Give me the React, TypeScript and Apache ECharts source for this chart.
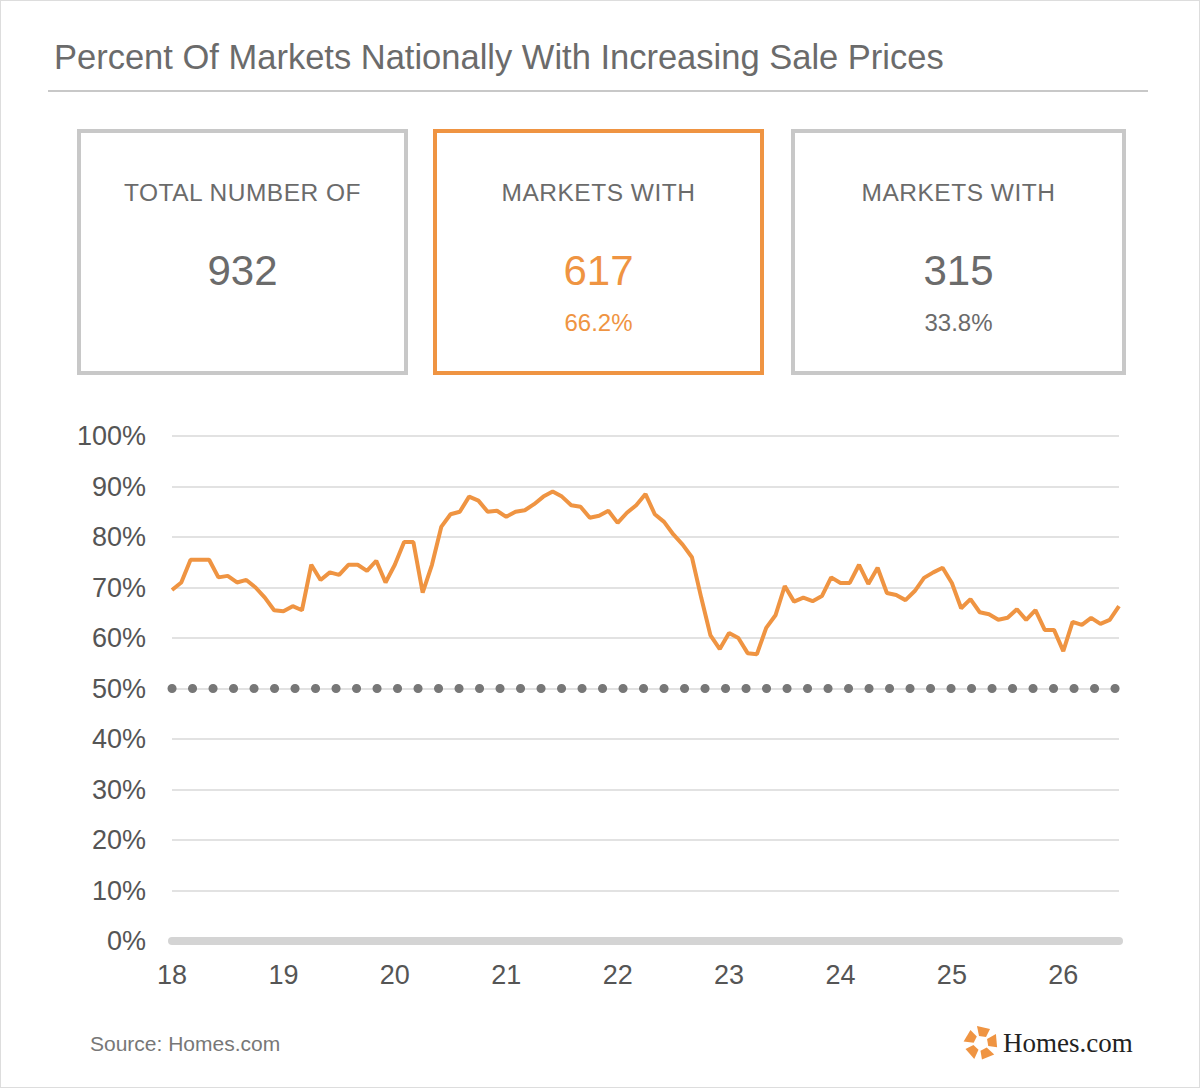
import React, { useEffect, useRef } from 'react';
import * as echarts from 'echarts';

// monthly share of markets with increasing sale prices, Jan 2018 onward
const shareValues = [
  69.5, 71, 75.5, 75.5, 75.5, 72, 72.3, 71, 71.5, 70,
  68, 65.5, 65.3, 66.3, 65.5, 74.5, 71.5, 73, 72.5, 74.5,
  74.5, 73.3, 75.3, 71, 74.5, 79, 79, 69, 74.5, 82,
  84.5, 85, 88, 87.2, 85, 85.2, 84, 85, 85.3, 86.5, 88,
  89, 88, 86.3, 86, 83.8, 84.2, 85.2, 82.8, 84.8, 86.3,
  88.5, 84.5, 83, 80.5, 78.5, 76, 68, 60.5, 57.8, 61,
  60, 57, 56.8, 62, 64.5, 70.3, 67.2, 68, 67.3,
  68.3, 72, 70.9, 70.9, 74.5, 70.7, 73.9, 68.9, 68.5, 67.5,
  69.3, 71.9, 73, 73.9, 70.9, 65.9, 67.7, 65.1, 64.7, 63.6,
  64, 65.7, 63.6, 65.5, 61.6, 61.6, 57.4, 63.2, 62.6, 64,
  62.8, 63.6, 66.3,
];
const startYear = 18;
const yearTicks = [18, 19, 20, 21, 22, 23, 24, 25, 26];
const threshold = 50;

const cards = [
  { label: 'TOTAL NUMBER OF', value: '932', pct: '', highlight: false },
  { label: 'MARKETS WITH', value: '617', pct: '66.2%', highlight: true },
  { label: 'MARKETS WITH', value: '315', pct: '33.8%', highlight: false },
];

const ORANGE = '#ef9442';
const FONT = '"Liberation Sans", Arial, sans-serif';

const App = () => {
  const chartRef = useRef(null);

  useEffect(() => {
    if (!chartRef.current) return;
    const chart = echarts.init(chartRef.current, null, { renderer: 'svg' });
    const data = shareValues.map((v, i) => [startYear + i / 12, v]);
    chart.setOption({
      animation: false,
      grid: { left: 171, right: 82, top: 435, bottom: 148 },
      xAxis: {
        type: 'value',
        min: 18,
        max: 26.5,
        interval: 1,
        axisLine: { show: true, lineStyle: { color: '#d4d4d4', width: 8 } },
        axisTick: { show: false },
        splitLine: { show: false },
        axisLabel: {
          color: '#555',
          fontSize: 27,
          fontFamily: FONT,
          margin: 20,
          showMaxLabel: false,
          formatter: (v) => (yearTicks.includes(v) ? String(v) : ''),
        },
      },
      yAxis: {
        type: 'value',
        min: 0,
        max: 100,
        interval: 10,
        axisLine: { show: false },
        axisTick: { show: false },
        splitLine: { lineStyle: { color: '#d9d9d9', width: 1.5 } },
        axisLabel: {
          color: '#555',
          fontSize: 27,
          fontFamily: FONT,
          margin: 26,
          formatter: '{value}%',
        },
      },
      series: [
        {
          type: 'line',
          data,
          symbol: 'none',
          lineStyle: { color: ORANGE, width: 4 },
          markLine: {
            silent: true,
            symbol: 'none',
            label: { show: false },
            lineStyle: { color: '#777', width: 9, type: [0.1, 20.4], cap: 'round' },
            data: [{ yAxis: threshold }],
          },
        },
      ],
    });
    return () => chart.dispose();
  }, []);

  return (
    <div
      style={{
        position: 'absolute',
        left: 0,
        top: 0,
        width: 1198,
        height: 1086,
        border: '1px solid #ddd',
        background: '#fff',
        fontFamily: FONT,
        overflow: 'hidden',
      }}
    >
      <div style={{ position: 'absolute', left: 53, top: 37, fontSize: 34.5, color: '#6b6b6b' }}>
        Percent Of Markets Nationally With Increasing Sale Prices
      </div>
      <div style={{ position: 'absolute', left: 47, top: 89, width: 1100, height: 1.5, background: '#c8c8c8' }} />
      {cards.map((c, i) => (
        <div
          key={i}
          style={{
            position: 'absolute',
            left: [76, 432, 790][i],
            top: 128,
            width: [323, 323, 327][i],
            height: 238,
            border: `4px solid ${c.highlight ? ORANGE : '#c8c8c8'}`,
            textAlign: 'center',
            color: c.highlight ? ORANGE : '#6b6b6b',
          }}
        >
          <div style={{ marginTop: 46, fontSize: 24.5, letterSpacing: 0.5, color: '#6b6b6b' }}>{c.label}</div>
          <div style={{ marginTop: 40, fontSize: 42 }}>{c.value}</div>
          <div style={{ marginTop: 14, fontSize: 24 }}>{c.pct}</div>
        </div>
      ))}
      <div ref={chartRef} style={{ position: 'absolute', left: 0, top: 0, width: 1200, height: 1088 }} />
      <div style={{ position: 'absolute', left: 89, top: 1031, fontSize: 21, color: '#777' }}>Source: Homes.com</div>
      <div style={{ position: 'absolute', left: 962, top: 1024, display: 'flex', alignItems: 'center' }}>
        <svg width="36" height="36" viewBox="-18 -18 36 36">
          {[0, 72, 144, 216, 288].map((a) => (
            <polygon key={a} points="-4,-17 9,-14 5,-6 -2,-7" fill={ORANGE} transform={`rotate(${a})`} />
          ))}
        </svg>
        <span style={{ fontFamily: '"Liberation Serif", serif', fontSize: 27, color: '#222', marginLeft: 4 }}>
          Homes.com
        </span>
      </div>
    </div>
  );
};

export default App;
